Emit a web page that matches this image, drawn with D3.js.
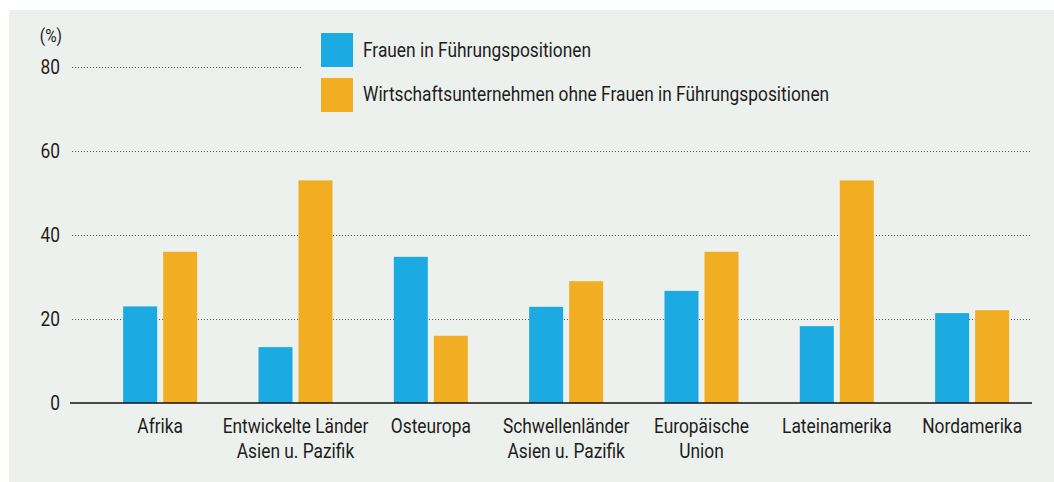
<!DOCTYPE html>
<html>
<head>
<meta charset="utf-8">
<script src="https://cdn.jsdelivr.net/npm/d3@7"></script>
<style>
  html, body { margin: 0; padding: 0; background: #ffffff; }
  svg { display: block; }
  text { font-family: "Roboto", "Liberation Sans", sans-serif; fill: #1e1c1d; }
</style>
</head>
<body>
<svg id="chart" width="1054" height="482"></svg>
<script>
// ---- data ----
const categories = [
  ["Afrika"],
  ["Entwickelte Länder", "Asien u. Pazifik"],
  ["Osteuropa"],
  ["Schwellenländer", "Asien u. Pazifik"],
  ["Europäische", "Union"],
  ["Lateinamerika"],
  ["Nordamerika"]
];
const seriesNames = [
  "Frauen in Führungspositionen",
  "Wirtschaftsunternehmen ohne Frauen in Führungspositionen"
];
const frauenValues = [23, 13.3, 34.8, 22.9, 26.7, 18.3, 21.4];
const ohneFrauenValues = [36, 53, 16, 29, 36, 53, 22.1];
const yTicks = [0, 20, 40, 60, 80];
const unitLabel = "(%)";
const colors = ["#1caae2", "#f1ae22"];

// ---- chart ----
const svg = d3.select("#chart");
svg.append("rect").attr("x", 9).attr("y", 10).attr("width", 1045).attr("height", 472).attr("fill", "#edf1ed");

// condensing factor so the text matches the narrow face of the original
const probe = svg.append("text").attr("font-size", 20);
let measured = 0;
[seriesNames[1], "Entwickelte Länder", "Lateinamerika", "Nordamerika"].forEach(s => {
  probe.text(s); measured += probe.node().getComputedTextLength();
});
const k = Math.min(1, 822 / measured);
probe.remove();

const catKeys = categories.map(c => c.join(" "));
const x0 = d3.scaleBand().domain(catKeys).range([92.5, 1039.8]).paddingInner(0).paddingOuter(0);
const x1 = d3.scaleBand().domain([0, 1]).range([0, 74]).paddingInner(0.15).paddingOuter(0);
const y = d3.scaleLinear().domain([0, 80]).range([403, 67]);

// gridlines
const grid = svg.append("g");
yTicks.filter(t => t > 0).forEach(t => {
  grid.append("line")
    .attr("x1", 72).attr("x2", t === 80 ? 301 : 1030)
    .attr("y1", Math.round(y(t)) + 0.5).attr("y2", Math.round(y(t)) + 0.5)
    .attr("stroke", "#555").attr("stroke-width", 1).attr("stroke-dasharray", "1 2");
});

// y tick labels
svg.append("g").selectAll("text").data(yTicks).join("text")
  .attr("transform", d => `translate(60,${y(d)}) scale(${k},1)`)
  .attr("dy", "0.36em")
  .attr("text-anchor", "end").attr("font-size", 20).text(d => d);
svg.append("text").attr("transform", `translate(62,36) scale(${k},1)`).attr("dy", "0.36em")
  .attr("text-anchor", "end").attr("font-size", 18).text(unitLabel);

// bars
const data = catKeys.map((key, i) => ({ key, vals: [frauenValues[i], ohneFrauenValues[i]] }));
const groups = svg.append("g").selectAll("g").data(data).join("g")
  .attr("transform", d => `translate(${x0(d.key) + x0.bandwidth() / 2 - 37},0)`);
groups.selectAll("rect").data(d => d.vals.map((v, j) => ({ v, j }))).join("rect")
  .attr("x", d => x1(d.j)).attr("width", x1.bandwidth())
  .attr("y", d => y(d.v)).attr("height", d => y(0) - y(d.v))
  .attr("fill", d => colors[d.j]);

// baseline
svg.append("line").attr("x1", 70).attr("x2", 1032).attr("y1", y(0)).attr("y2", y(0))
  .attr("stroke", "#111").attr("stroke-width", 1.5);

// category labels
const labels = svg.append("g").selectAll("text").data(categories).join("text")
  .attr("text-anchor", "middle").attr("font-size", 20)
  .attr("transform", (d, i) => `translate(${x0(catKeys[i]) + x0.bandwidth() / 2},0) scale(${k},1)`);
labels.selectAll("tspan").data(d => d).join("tspan")
  .attr("x", 0).attr("y", (d, i) => 433 + i * 25).text(d => d);

// legend
const legend = svg.append("g");
seriesNames.forEach((name, i) => {
  legend.append("rect").attr("x", 321).attr("y", 33 + i * 45).attr("width", 32).attr("height", 34).attr("fill", colors[i]);
  legend.append("text").attr("transform", `translate(363,${57 + i * 44}) scale(${k},1)`)
    .attr("font-size", 20).text(name);
});
</script>
</body>
</html>
